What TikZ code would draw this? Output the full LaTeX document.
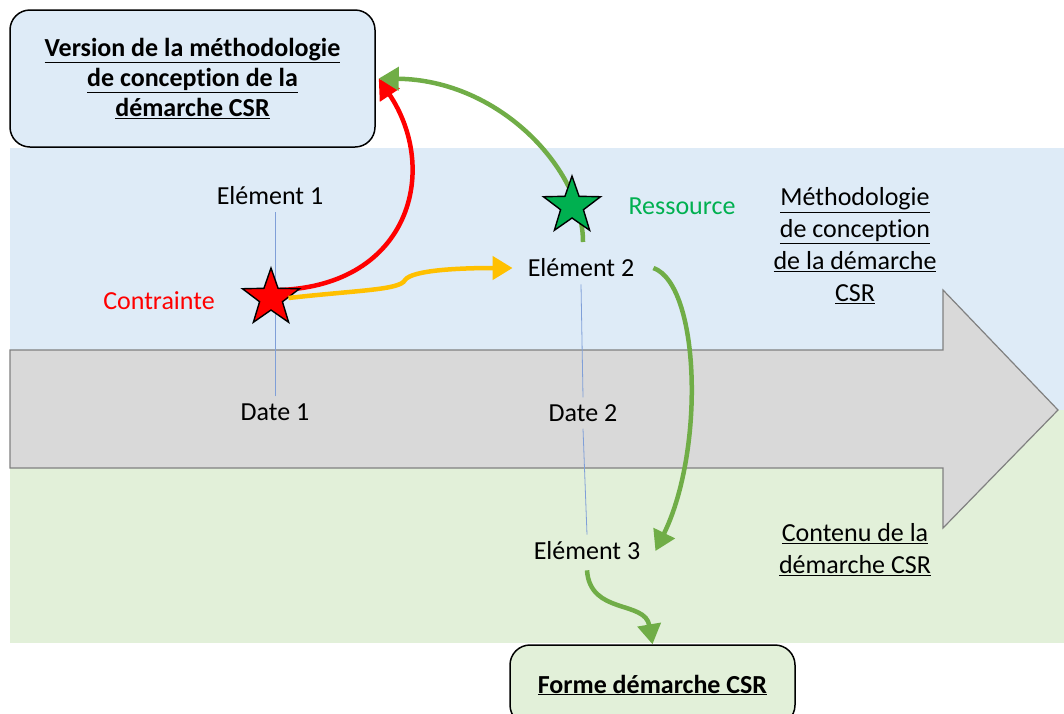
\documentclass[tikz,border=0pt]{standalone}
\usepackage{fontspec}
\setmainfont{Carlito}[Ligatures=NoCommon]
\usetikzlibrary{arrows.meta,positioning,shapes.geometric}
\definecolor{bandblue}{HTML}{DEEBF7}
\definecolor{bandgreen}{HTML}{E2F0D9}
\definecolor{timegray}{HTML}{D9D9D9}
\definecolor{timeedge}{HTML}{808080}
\definecolor{leafgreen}{HTML}{70AD47}
\definecolor{stargreen}{HTML}{00B050}
\definecolor{gold}{HTML}{FFC000}
\definecolor{tickblue}{HTML}{7F9FD8}
\newcommand{\ul}[1]{\underline{#1}}

\begin{document}
\begin{tikzpicture}[x=1pt,y=-1pt,
  every node/.style={font=\fontsize{26}{30}\selectfont,align=center},
  elem/.style={inner sep=7pt},
  frame/.style={draw=black,line width=1.5pt,rounded corners=20pt},
  side/.style={font=\fontsize{26}{32}\selectfont},
  mark5/.style={star,star points=5,star point ratio=2.5,draw=black,line width=1.4pt,minimum size=60pt,inner sep=0pt},
  tick/.style={draw=tickblue,line width=0.8pt},
  flow/.style={line width=4.5pt,-{Triangle[length=20pt,width=23pt]}}
]
\useasboundingbox (0,0) rectangle (1064,713);
% bands and time axis
\fill[bandblue] (10,148) rectangle (1064,410);
\fill[bandgreen] (10,410) rectangle (1064,643);
\draw[fill=timegray,draw=timeedge,line width=1.2pt] (10,350) -- (943,350) -- (943,290) -- (1058,410)
  -- (943,528) -- (943,468) -- (10,468) -- cycle;

\node[frame,fill=bandblue,minimum width=365pt,minimum height=137pt] (title) at (192.5,78.5)
  {\textbf{\ul{Version de la méthodologie}}\\\textbf{\ul{de conception de la}}\\\textbf{\ul{démarche CSR}}};
\node[frame,fill=bandgreen,minimum width=285pt,minimum height=80pt] (form) at (652.5,685)
  {\textbf{\ul{Forme démarche CSR}}};

\node[elem] (elem1) at (270,196) {Elément 1};
\node[elem] (elem2) at (581,268) {Elément 2};
\node[elem] (elem3) at (587,551) {Elément 3};
\node[elem] (date1) at (275,412) {Date 1};
\node[elem] (date2) at (583,413) {Date 2};

\node[side] (metho) at (855,246) {\ul{Méthodologie}\\\ul{de conception}\\\ul{de la démarche}\\\ul{CSR}};
\node[side] (contenu) at (855,550) {\ul{Contenu de la}\\\ul{démarche CSR}};

\draw[tick] (date1.north) -- (date1.north |- elem1.south);
\draw[tick] (elem2.south) -- (date2.north);
\draw[tick] (date2.south) -- (elem3.north);

\node[text=red] (contr) at (159,301) {Contrainte};
\node[text=stargreen] (res) at (682,206) {Ressource};

% links
\draw[flow,red] (280,290) .. controls (410,285) and (440,170) .. ([xshift=3pt]title.east);
\node[mark5,fill=red] (cstar) at (271,298) {};
\draw[flow,gold] (cstar.east) .. controls (360,290) and (400,290) .. (405,280)
  .. controls (412,270) and (460,268) .. ([xshift=-8pt]elem2.west);
\draw[flow,leafgreen] (583,242) .. controls (583,170) and (500,80) .. ([xshift=3pt]title.east);
\node[mark5,fill=stargreen] (rstar) at (572,206) {};
\draw[flow,leafgreen] ([xshift=12pt]elem2.east) .. controls (700,285) and (705,450) .. ([xshift=8pt]elem3.east);
\draw[flow,leafgreen] ([yshift=-3pt]elem3.south) .. controls (590,615) and (645,600) .. (form.north);
\end{tikzpicture}
\end{document}
